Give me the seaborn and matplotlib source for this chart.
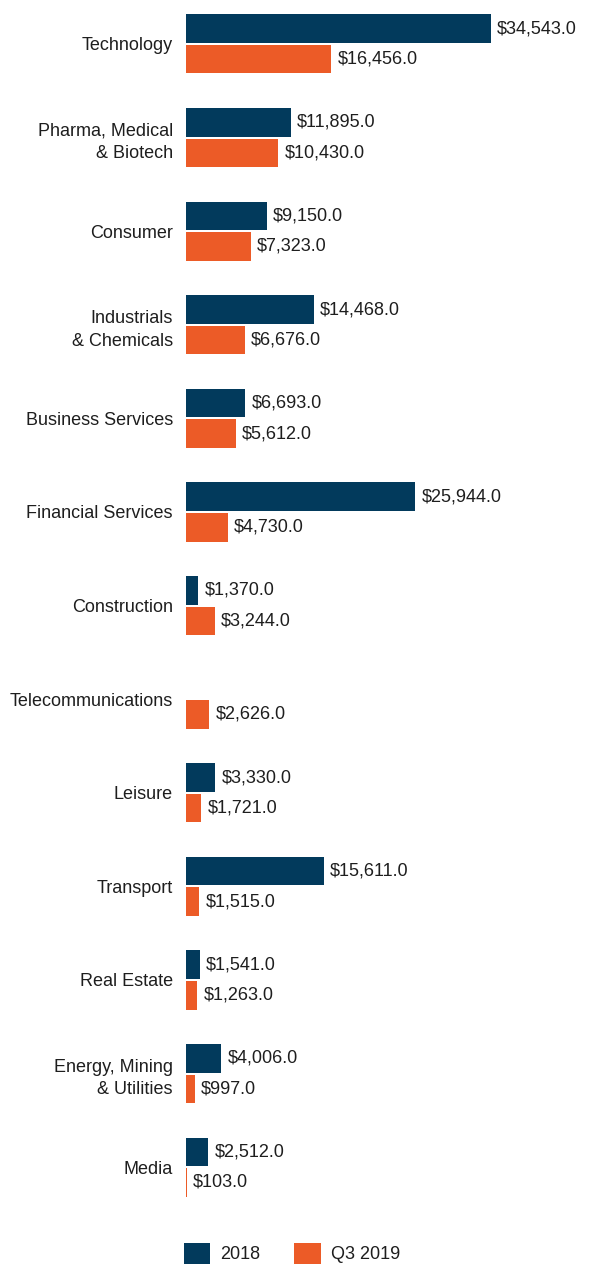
import matplotlib
matplotlib.use("Agg")
import matplotlib.pyplot as plt
import matplotlib.patches as mpatches
import numpy as np
import pandas as pd
import seaborn as sns

categories = [
    "Technology",
    "Pharma, Medical\n& Biotech",
    "Consumer",
    "Industrials\n& Chemicals",
    "Business Services",
    "Financial Services",
    "Construction",
    "Telecommunications",
    "Leisure",
    "Transport",
    "Real Estate",
    "Energy, Mining\n& Utilities",
    "Media",
]
values_2018 = [34543.0, 11895.0, 9150.0, 14468.0, 6693.0, 25944.0, 1370.0,
               np.nan, 3330.0, 15611.0, 1541.0, 4006.0, 2512.0]
values_q3_2019 = [16456.0, 10430.0, 7323.0, 6676.0, 5612.0, 4730.0, 3244.0,
                  2626.0, 1721.0, 1515.0, 1263.0, 997.0, 103.0]
series = ["2018", "Q3 2019"]
colors = ["#023a5c", "#ec5b27"]

df = pd.DataFrame({
    "sector": categories * 2,
    "value": values_2018 + values_q3_2019,
    "period": [series[0]] * len(categories) + [series[1]] * len(categories),
})

sns.set_style("white")
plt.rcParams["font.family"] = ["Liberation Sans", "DejaVu Sans"]

fig = plt.figure(figsize=(5.92, 12.64), dpi=100)
ax = fig.add_axes([186 / 592, 50 / 1264, 406 / 592, 1214 / 1264])

sns.barplot(data=df, x="value", y="sector", hue="period", order=categories,
            hue_order=series, palette=colors, width=0.65, gap=0.06,
            orient="h", ax=ax, legend=False, saturation=1, linewidth=0)

for cont in ax.containers:
    labels = ["" if np.isnan(v) else f"${v:,.1f}" for v in cont.datavalues]
    ax.bar_label(cont, labels=labels, padding=4.5, fontsize=13, color="#1e1e1e")

ax.set_xlim(0, 406 / 305 * 34543)
ax.set_ylim(12.5, -0.47)
ax.set_xlabel("")
ax.set_ylabel("")
ax.set_xticks([])
ax.tick_params(axis="y", length=0, pad=9.4, labelsize=13, labelcolor="#1e1e1e")
for lbl in ax.get_yticklabels():
    lbl.set_linespacing(1.45)
sns.despine(ax=ax, left=True, bottom=True)

handles = [mpatches.Patch(color=c, label=s, linewidth=0) for c, s in zip(colors, series)]
fig.legend(handles=handles, loc="lower center", bbox_to_anchor=(0.493, -0.007),
           ncol=2, frameon=False, fontsize=13, handlelength=1.45,
           handleheight=1.4, columnspacing=1.9, handletextpad=0.55,
           borderpad=0, labelcolor="#1e1e1e")

fig.savefig("out.png", dpi=100)
